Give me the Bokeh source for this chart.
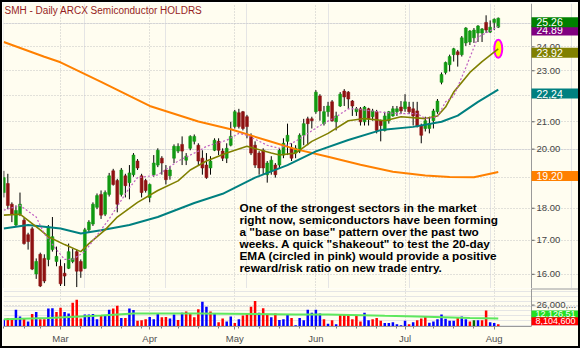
from bokeh.plotting import figure
from bokeh.models import Range1d, FixedTicker, Label, Grid, Spacer, ColumnDataSource, Span
from bokeh.core.properties import value
from bokeh.layouts import column, row
from bokeh.embed import file_html
from bokeh.resources import INLINE

BG = "#FFFDF0"
FONT = "Liberation Sans"

# ---------------- data ----------------
opens = [18.51, 18.81, 18.13, 17.47, 17.81, 17.62, 17.17, 17.35, 16.01, 16.58,
         16.46, 16.43, 16.72, 16.37, 16.23, 16.03, 16.17, 16.37, 16.66, 16.37,
         16.17, 17.32, 17.50, 18.03, 18.45, 17.81, 18.45, 19.24, 18.91, 18.45,
         19.07, 18.84, 19.11, 19.58, 19.07, 18.91, 18.35, 19.11, 19.44, 19.68,
         19.27, 19.07, 19.68, 19.93, 20.17, 19.61, 20.03, 20.28, 20.14, 19.68,
         19.44, 19.34, 19.96, 20.28, 19.93, 19.68, 20.14, 20.82, 21.34, 21.38,
         21.19, 20.46, 20.14, 19.86, 19.96, 19.11, 19.24, 19.44, 19.44, 19.79,
         20.28, 20.03, 19.86, 19.93, 20.50, 21.11, 21.11, 21.38, 21.99, 20.93,
         21.38, 21.76, 21.00, 21.60, 22.18, 22.14, 21.79, 21.38, 21.49, 21.00,
         21.49, 21.19, 21.38, 21.04, 20.68, 21.04, 21.22, 21.38, 21.56, 21.49,
         21.56, 21.49, 21.41, 20.86, 20.75, 20.75, 21.04, 21.38, 22.53, 22.93,
         23.25, 23.67, 23.79, 23.67, 24.17, 24.21, 24.39, 24.60, 24.60, 25.07,
         24.64, 25.07, 24.86]
highs = [19.24, 19.14, 18.19, 18.09, 18.51, 17.69, 17.23, 17.41, 16.46, 16.63,
         16.58, 17.47, 17.72, 16.81, 16.43, 16.32, 16.90, 16.75, 16.72, 16.43,
         17.38, 17.62, 18.19, 18.48, 18.58, 18.58, 19.17, 19.31, 18.97, 19.34,
         19.14, 19.44, 19.86, 19.65, 19.14, 18.97, 18.81, 19.79, 20.03, 19.75,
         19.44, 19.41, 20.17, 20.21, 20.46, 19.86, 20.50, 20.53, 20.21, 19.96,
         19.86, 19.75, 20.39, 20.39, 20.03, 20.21, 21.00, 21.45, 21.49, 21.41,
         21.26, 20.57, 20.28, 19.93, 20.03, 19.58, 19.75, 19.51, 20.03, 20.39,
         20.93, 20.21, 20.14, 20.57, 21.11, 21.19, 21.19, 22.22, 22.06, 21.60,
         21.76, 21.83, 21.38, 22.14, 22.26, 22.18, 21.83, 21.56, 21.56, 21.60,
         21.53, 21.49, 21.45, 21.08, 21.38, 21.41, 21.60, 21.60, 21.79, 22.06,
         21.76, 21.76, 21.76, 20.93, 21.19, 21.19, 21.49, 21.87, 22.93, 23.38,
         23.67, 23.96, 23.87, 24.47, 24.86, 24.73, 24.82, 24.95, 24.82, 25.39,
         25.16, 25.25, 25.29]
lows = [18.35, 17.97, 17.56, 17.41, 17.75, 16.87, 16.72, 16.12, 15.87, 15.64,
        15.75, 16.23, 16.66, 16.23, 15.67, 15.67, 16.15, 16.32, 15.64, 15.90,
        16.15, 17.23, 17.44, 17.97, 17.66, 17.75, 18.38, 18.74, 17.87, 18.38,
        18.35, 18.29, 19.04, 19.27, 18.35, 18.51, 18.19, 19.04, 19.37, 19.11,
        18.78, 18.94, 19.51, 19.86, 19.44, 19.44, 19.96, 20.17, 19.44, 19.11,
        18.97, 19.11, 19.93, 19.79, 19.58, 19.51, 20.10, 20.75, 20.75, 20.68,
        20.39, 19.79, 19.34, 19.11, 19.11, 18.84, 19.11, 19.01, 19.34, 19.68,
        19.79, 19.58, 19.68, 19.86, 20.14, 20.14, 20.75, 21.30, 21.04, 20.86,
        21.19, 21.00, 20.68, 21.56, 21.60, 21.49, 21.22, 21.22, 20.86, 20.86,
        20.86, 21.04, 20.57, 20.28, 20.64, 20.93, 21.19, 21.22, 21.30, 21.38,
        21.30, 20.86, 20.79, 20.21, 20.64, 20.57, 20.75, 21.30, 22.45, 22.85,
        22.97, 23.38, 23.17, 23.59, 24.04, 24.08, 24.17, 24.21, 24.21, 24.60,
        24.60, 24.73, 24.82]
closes = [19.01, 18.09, 17.81, 17.93, 18.13, 16.90, 16.96, 16.15, 16.37, 15.67,
          15.81, 17.41, 17.11, 16.52, 15.73, 15.95, 16.66, 16.46, 16.09, 16.09,
          17.32, 17.56, 18.13, 18.41, 17.78, 18.51, 19.07, 18.78, 18.13, 19.27,
          18.74, 19.17, 19.79, 19.34, 18.51, 18.58, 18.78, 19.51, 19.96, 19.51,
          18.94, 19.27, 20.10, 20.10, 19.93, 19.75, 20.46, 20.46, 19.58, 19.34,
          19.01, 19.58, 20.32, 19.96, 19.68, 20.03, 20.46, 21.38, 20.82, 20.75,
          20.82, 19.86, 19.44, 19.34, 19.34, 19.51, 19.61, 19.11, 19.96, 20.21,
          20.50, 19.68, 20.03, 20.50, 20.93, 20.93, 21.04, 22.14, 21.41, 21.38,
          21.60, 21.04, 21.22, 22.06, 21.95, 21.87, 21.60, 21.49, 21.00, 21.56,
          21.11, 21.41, 20.68, 20.86, 21.22, 21.38, 21.49, 21.49, 21.41, 21.76,
          21.38, 21.22, 20.82, 20.50, 21.04, 20.93, 21.41, 21.79, 22.85, 23.34,
          23.59, 23.92, 23.67, 24.39, 24.82, 24.69, 24.73, 24.91, 24.78, 24.73,
          24.86, 25.21, 25.26]

volume_m = [11.2, 12.7, 12.1, 21.2, 14.2, 11.8, 9.1, 16.7, 18.8, 11.2,
            11.2, 22.4, 22.7, 18.8, 23.3, 18.8, 17.2, 28.5, 31.5, 12.1,
            16.3, 16.3, 16.7, 11.2, 14.9, 15.8, 21.2, 22.4, 25.4, 12.7,
            12.7, 22.4, 20.9, 9.7, 10.3, 11.2, 13.6, 11.2, 16.7, 13.3,
            13.6, 12.1, 16.3, 10.6, 18.1, 19.4, 16.7, 13.3, 21.8, 29.4,
            24.2, 19.4, 17.2, 8.2, 12.1, 9.1, 14.2, 7.3, 11.2, 15.1,
            17.2, 24.2, 30.3, 18.1, 22.7, 16.7, 13.3, 17.2, 10.6, 11.2,
            15.8, 12.7, 5.2, 12.7, 10.3, 21.2, 18.1, 21.2, 17.2, 11.2,
            6.7, 10.3, 6.1, 15.8, 15.8, 15.8, 11.2, 15.8, 9.1, 18.1,
            10.3, 11.2, 12.7, 9.7, 7.3, 7.3, 8.2, 6.1, 5.2, 9.7,
            6.1, 8.2, 10.3, 12.1, 14.2, 7.6, 9.1, 11.2, 16.3, 11.8,
            9.7, 9.7, 12.7, 14.2, 11.2, 9.1, 10.3, 10.3, 10.3, 20.3,
            8.2, 7.3, 6.1]
volume_dir = ("brrbbrbrbr" "rbbrrbbrrr" "bbbbrbbrrb" "rbbrrrbbbr" "rbbrbrrrrb"
              "brbrrbbrbr" "rrrbrrbrbb" "brbbbbbbbr" "brbrrrrrrb" "brrrbbbbbb"
              "rbrrrbbbbb" "bbrbbrgbrr" "bbr")

vol_avg_idx = [0, 11, 24, 32, 48, 72, 80, 94, 102, 115, 122]
vol_avg_m = [11.2, 12.7, 15.1, 17.2, 17.2, 16.3, 16.3, 14.9, 14.2, 12.7, 12.1]

ma200_idx = [0, 10, 14, 24, 36, 48, 56, 65, 72, 80, 88, 96, 104, 110, 116, 122]
ma200_vals = [24.21, 23.58, 23.35, 22.55, 21.60, 21.01, 20.72, 20.31, 20.00, 19.73,
              19.45, 19.21, 19.08, 19.03, 19.02, 19.20]

ma50_idx = [0, 6, 14, 19, 24, 31, 38, 47, 54, 62, 70, 77, 85, 93, 101, 108, 112, 117, 122]
ma50_vals = [17.36, 17.47, 17.36, 17.21, 17.31, 17.47, 17.72, 18.17, 18.47, 19.01,
             19.44, 19.92, 20.33, 20.69, 20.81, 21.00, 21.23, 21.76, 22.24]

ema20_idx = [0, 4, 9, 11, 15, 19, 21, 25, 28, 33, 38, 43, 46, 50, 55, 60, 66, 68, 72,
             76, 80, 85, 89, 94, 98, 104, 107, 109, 111, 115, 118, 122]
ema20_vals = [17.78, 17.81, 17.32, 17.11, 16.87, 16.66, 16.90, 17.32, 17.72, 18.19,
              18.58, 18.90, 19.27, 19.58, 19.86, 20.10, 19.86, 19.79, 19.86, 20.28,
              20.57, 21.04, 21.12, 21.04, 21.19, 21.12, 21.22, 21.56, 22.14, 22.93,
              23.38, 23.92]

ma10_idx = [0, 4, 8, 10, 13, 15, 17, 20, 26, 31, 33, 38, 43, 48, 50, 55, 58, 60, 65,
            68, 72, 75, 78, 82, 85, 87, 92, 97, 102, 104, 107, 109, 111, 114, 117, 122]
ma10_vals = [17.94, 18.09, 17.72, 17.20, 16.72, 16.43, 16.43, 16.66, 17.66, 18.67,
             19.01, 19.10, 19.58, 19.93, 20.10, 20.32, 20.57, 20.50, 20.14, 20.03,
             20.28, 20.57, 20.86, 21.19, 21.49, 21.49, 21.38, 21.31, 21.31, 21.12,
             21.19, 21.76, 21.98, 23.13, 24.42, 24.89]

price_ticks = [16, 17, 18, 19, 20, 21, 22, 23, 24, 25]
month_idx = [14, 36, 57, 77, 99, 121]
month_labels = ["Mar", "Apr", "May", "Jun", "Jul", "Aug"]
week_idx = [0, 5, 9, 14, 19, 24, 29, 34, 39, 43, 48, 53, 58, 63, 68, 73, 77, 82, 87,
            92, 97, 101, 106, 111, 116, 121]
vol_tick = 26000000
vol_tick_label = "26,000,..."
vol_avg_label = "12,126,51"
vol_last_label = "8,104,600"

title_text = "SMH - Daily  ARCX  Semiconductor HOLDRS"
note_lines = [
    "One of the strongest sectors in the market",
    "right now, semiconductors have been forming",
    'a "base on base" pattern over the past two',
    'weeks.  A quick "shakeout" to test the 20-day',
    "EMA (circled in pink) would provide a positive",
    "reward/risk ratio on new trade entry.",
]

# ---------------- layout constants ----------------
W = 576
PLOT_W = 528              # width of the chart area left of the scale column
X0, XB = -0.07, 130.2     # chart area x-range (bar index)
PX_PER = PLOT_W / (XB - X0)
X_END = X0 + (W - 1) / PX_PER   # frame also covers the scale column
P0, P1 = 15.60, 25.93
V0, V1 = 3.8e6, 43.2e6
GRID = "#C4C4C4"
AXIS = "#9A9A9A"
TICK_TXT = "#454545"

n = len(closes)
idx = list(range(n))

p = figure(width=W, height=286, x_range=Range1d(X0, X_END), y_range=Range1d(P0, P1),
           y_axis_type="log", y_axis_location=None, x_axis_location=None,
           output_backend="svg", toolbar_location=None, tools="",
           background_fill_color=BG, border_fill_color=BG,
           min_border_left=1, min_border_right=0, min_border_top=1, min_border_bottom=0)
p.outline_line_color = None

p.add_layout(Grid(dimension=1, ticker=FixedTicker(ticks=price_ticks), bounds=(X0, XB),
                  grid_line_color=GRID, grid_line_dash="1 2"))
p.add_layout(Grid(dimension=0, ticker=FixedTicker(ticks=month_idx),
                  grid_line_color=GRID, grid_line_dash="1 2"))

# price scale column (ticks + labels)
p.ray(x=[XB] * len(price_ticks), y=price_ticks, length=3, length_units="screen", angle=0,
      line_color="#606060", line_width=1)
p.text(x=[XB] * len(price_ticks), y=price_ticks, text=[f"{t:.2f}" for t in price_ticks],
       x_offset=5, text_baseline="middle", text_align="left", text_font=value(FONT),
       text_font_size=value("9.5px"), text_color=TICK_TXT)
p.add_layout(Span(location=XB, dimension="height", line_color=AXIS, line_width=1))

# candles
src = ColumnDataSource(dict(
    x=idx, high=highs, low=lows,
    btop=[max(o, c) for o, c in zip(opens, closes)],
    bbot=[min(o, c) for o, c in zip(opens, closes)],
    col=["#129A12" if c >= o else "#8E1212" for o, c in zip(opens, closes)],
))
p.segment(x0="x", y0="low", x1="x", y1="high", source=src, line_color="#000000", line_width=1)
p.vbar(x="x", width=0.7, top="btop", bottom="bbot", fill_color="col", line_color="col",
       line_width=0.6, source=src)

# pink circle on the 20-day EMA
p.ellipse(x=[ema20_idx[-1]], y=[ema20_vals[-1]], width=8, height=18,
          width_units="screen", height_units="screen",
          fill_color="#FFFF00", line_color="#FF00FF", line_width=2)

# moving averages
p.line(ma200_idx, ma200_vals, line_color="#FF8000", line_width=2)
p.line(ma50_idx, ma50_vals, line_color="#008080", line_width=2)
p.line(ema20_idx, ema20_vals, line_color="#808000", line_width=1.6)
p.line(ma10_idx, ma10_vals, line_color="#C060C0", line_width=1.2, line_dash="2 2")

# title
p.add_layout(Label(x=X0, y=P1, x_offset=1, y_offset=-1, text=title_text,
                   text_baseline="top", text_align="left", text_font=FONT,
                   text_font_size="10px", text_color="#961E1E"))

# note text
offs = [80.9, 68.5, 56.3, 44.5, 32.4, 20.9]
for line, off in zip(note_lines, offs):
    p.add_layout(Label(x=X0, y=P0, x_offset=236, y_offset=off, text=line,
                       text_baseline="middle", text_align="left", text_font=FONT,
                       text_font_style="bold", text_font_size="11.8px",
                       text_color="#000000"))

# value boxes on the price scale
value_boxes = [
    (ma10_vals[-1], "#800080"),
    (closes[-1], "#008000"),
    (ema20_vals[-1], "#808000"),
    (ma50_vals[-1], "#008080"),
    (ma200_vals[-1], "#FF8000"),
]
for val, bgc in value_boxes:
    p.add_layout(Label(x=XB, y=val, x_offset=0, y_offset=-4, text=f"{val:.2f}",
                       text_baseline="middle", text_align="left", text_font=FONT,
                       text_font_size="10.5px", text_color="#FFFFFF",
                       background_fill_color=bgc,
                       padding=dict(left=5, right=16, top=1, bottom=1)))

# ---------------- volume panel ----------------
pv = figure(width=W, height=58, x_range=p.x_range, y_range=Range1d(V0, V1),
            y_axis_location=None, output_backend="svg", toolbar_location=None, tools="",
            background_fill_color=BG, border_fill_color=BG,
            min_border_left=1, min_border_right=0, min_border_top=0, min_border_bottom=15)
pv.outline_line_color = None

pv.add_layout(Grid(dimension=1, ticker=FixedTicker(ticks=[vol_tick]), bounds=(X0, XB),
                   grid_line_color=GRID, grid_line_dash="1 2"))
pv.ray(x=[XB], y=[vol_tick], length=3, length_units="screen", angle=0,
       line_color="#606060", line_width=1)
pv.text(x=[XB], y=[vol_tick], text=[vol_tick_label], x_offset=5, text_baseline="middle",
        text_align="left", text_font=value(FONT), text_font_size=value("9.5px"),
        text_color=TICK_TXT)
pv.add_layout(Span(location=XB, dimension="height", line_color=AXIS, line_width=1))
pv.segment(x0=[XB], y0=[V1], x1=[X_END], y1=[V1], line_color=AXIS, line_width=2)

vcol_map = {"b": "#0000FF", "r": "#FF0000", "g": "#006400"}
vsrc = ColumnDataSource(dict(x=idx, top=[v * 1e6 for v in volume_m],
                             col=[vcol_map[d] for d in volume_dir]))
pv.vbar(x="x", width=0.62, top="top", bottom=0, fill_color="col", line_color=None, source=vsrc)
pv.line(vol_avg_idx, [v * 1e6 for v in vol_avg_m], line_color="#5EE85E", line_width=2)

vx = pv.xaxis[0]
vx.ticker = FixedTicker(ticks=month_idx, minor_ticks=week_idx)
vx.major_label_overrides = {m: lab for m, lab in zip(month_idx, month_labels)}
vx.bounds = (X0, XB)
vx.axis_line_color = AXIS
vx.major_tick_line_color = "#808080"
vx.minor_tick_line_color = "#808080"
vx.major_tick_out = 3
vx.major_tick_in = 0
vx.minor_tick_out = 2
vx.minor_tick_in = 0
vx.major_label_standoff = 3
vx.major_label_text_font = FONT
vx.major_label_text_font_size = "9.5px"
vx.major_label_text_color = "#505050"
pv.xgrid.grid_line_color = GRID
pv.xgrid.grid_line_dash = "1 2"

pv.add_layout(Label(x=XB, y=vol_avg_m[-1] * 1e6, x_offset=0, y_offset=4, text=vol_avg_label,
                    text_baseline="middle", text_align="left", text_font=FONT,
                    text_font_size="9px", text_color="#FFFFFF",
                    background_fill_color="#22E022",
                    padding=dict(left=4, right=3, top=1, bottom=1)))
pv.add_layout(Label(x=XB, y=volume_m[-1] * 1e6, x_offset=0, y_offset=3, text=vol_last_label,
                    text_baseline="middle", text_align="left", text_font=FONT,
                    text_font_size="9px", text_color="#FFFFFF",
                    background_fill_color="#FF0000",
                    padding=dict(left=4, right=3, top=1, bottom=1)))

black = {"background-color": "#000000"}
inner = column(p, pv, spacing=0)
layout = column(
    Spacer(width=580, height=2, styles=black),
    row(Spacer(width=2, height=344, styles=black), inner,
        Spacer(width=2, height=344, styles=black), spacing=0),
    Spacer(width=580, height=2, styles=black),
    spacing=0,
)

open("out.html", "w").write(file_html(layout, INLINE))
